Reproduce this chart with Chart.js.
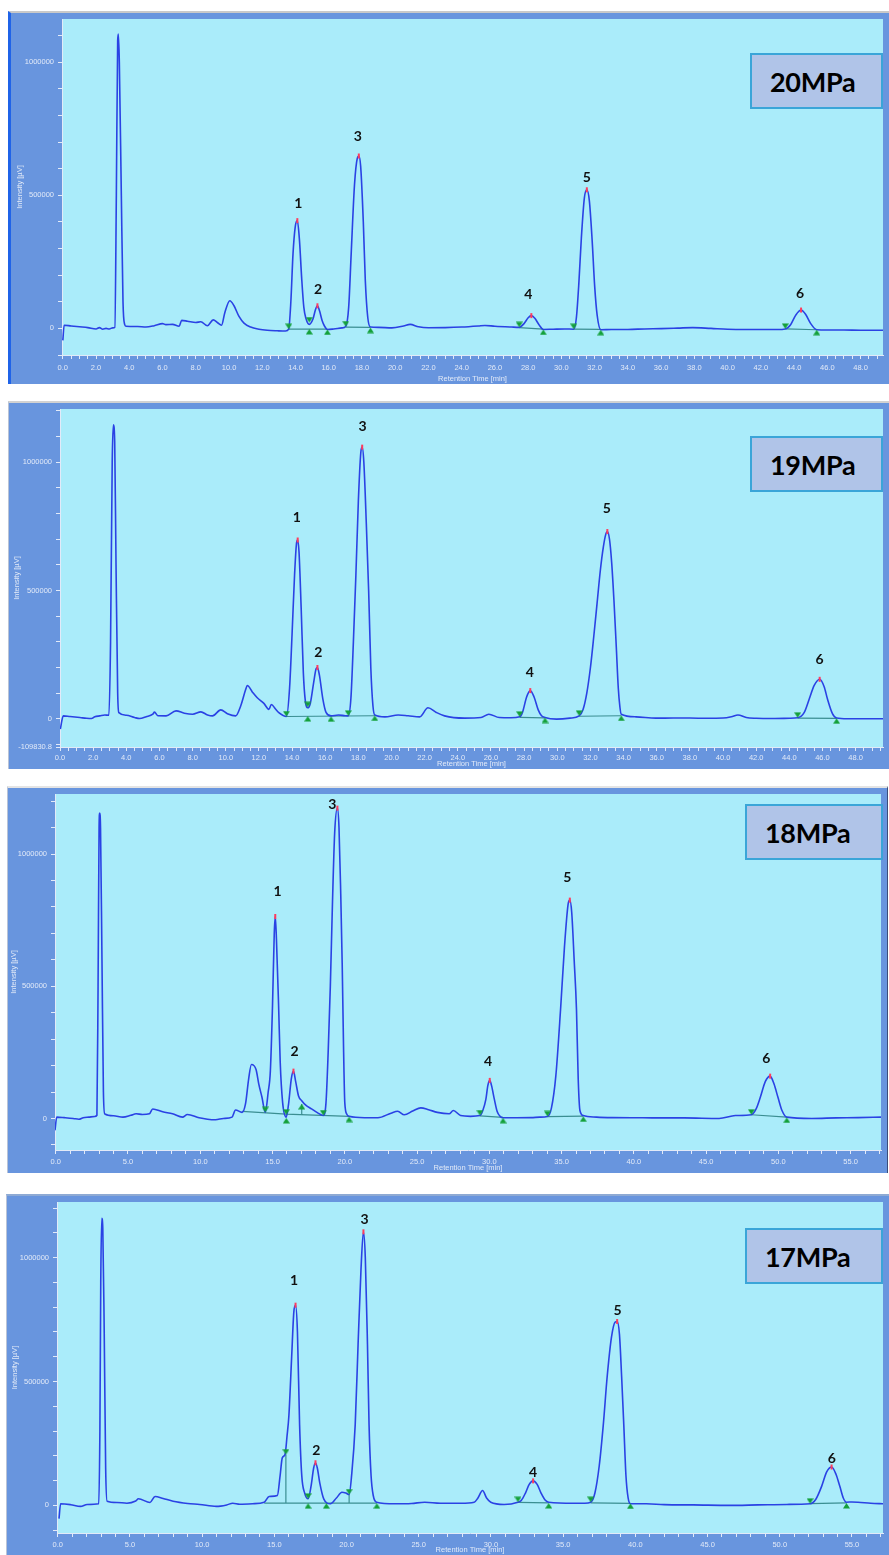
<!DOCTYPE html>
<html>
<head>
<meta charset="utf-8">
<title>Chromatograms 17-20 MPa</title>
<script src="https://cdn.jsdelivr.net/npm/chart.js@4.4.1/dist/chart.umd.min.js"></script>
<style>
  html, body { margin: 0; padding: 0; background: #fff; }
  body { position: relative; width: 889px; height: 1555px; overflow: hidden; }
  .panel { position: absolute; background: #6895de; }
  .panel canvas { display: block; }
  .tag {
    position: absolute; box-sizing: border-box; height: 56px;
    border: 2px solid #3aa5d8; background: #b0c4e8; color: #000;
    font: 700 27px Lato, "Open Sans", sans-serif; letter-spacing: -0.3px;
    display: flex; align-items: center; padding-left: 18px;
  }
</style>
</head>
<body>

<div class="panel" style="left:8px;top:11px;border-top:2px solid #c9c9c9;border-left:3px solid #1f63e8;">
  <canvas id="c20" width="878" height="371"></canvas>
</div>
<div class="panel" style="left:8px;top:401px;border-top:2px solid #d2d2d2;border-left:1px solid #b9c3d6;">
  <canvas id="c19" width="880" height="366"></canvas>
</div>
<div class="panel" style="left:7px;top:786px;border-top:2px solid #e4e4e4;border-left:1px solid #b9c3d6;border-right:1px solid #3c4c78;">
  <canvas id="c18" width="879" height="385"></canvas>
</div>
<div class="panel" style="left:6px;top:1194px;border-top:2px solid #8eaad4;border-left:1px solid #b9c3d6;">
  <canvas id="c17" width="882" height="359"></canvas>
</div>

<div class="tag" style="left:750px;top:53px;width:133px;">20MPa</div>
<div class="tag" style="left:750px;top:436px;width:133px;">19MPa</div>
<div class="tag" style="left:745px;top:804px;width:138px;">18MPa</div>
<div class="tag" style="left:745px;top:1228px;width:138px;">17MPa</div>

<script>
// ---- 20 MPa ----
const time20 = [
  0.0, 0.08, 0.5, 1.0, 1.5, 2.0, 2.2, 2.4, 2.6, 2.8, 3.0, 3.13,
  3.22, 3.30, 3.34, 3.40, 3.52, 3.62, 3.72, 3.8,
  4.5, 5.0, 5.5, 6.0, 6.2, 6.6, 7.0, 7.15, 7.5, 8.0,
  8.3, 8.7, 9.05, 9.3, 9.55, 9.75, 10.05, 10.3, 10.6, 10.9,
  11.3, 11.8, 12.3, 12.9, 13.4, 13.59,
  13.72, 13.85, 13.98, 14.11, 14.24, 14.37, 14.5, 14.63, 14.83,
  15.05, 15.2, 15.32, 15.45, 15.6, 15.75, 15.92,
  16.3, 16.8, 17.02,
  17.2, 17.35, 17.55, 17.72, 17.81, 17.92, 18.08, 18.2, 18.35, 18.51,
  19.0, 19.8, 20.5, 20.9, 21.4, 22.0, 23.0, 24.0, 25.0, 25.4, 26.0, 27.0, 27.46,
  27.75, 28.0, 28.19, 28.4, 28.65, 28.91,
  29.5, 30.2, 30.74,
  30.9, 31.05, 31.2, 31.38, 31.53, 31.68, 31.85, 32.0, 32.15, 32.37,
  33, 34, 35, 36, 37, 37.9, 39, 40, 41, 42, 43, 43.47,
  43.8, 44.1, 44.42, 44.7, 45.0, 45.36,
  46, 47, 48, 49.4
];
const signal20 = [
  -45000, 12000, 9000, 6000, 3000, -2000, 3000, -3000, 0, -2000, 2000, 4000,
  500000, 1080000, 1106000, 1000000, 500000, 100000, 15000, 8000,
  7000, 5000, 10000, 18000, 14000, 15000, 8000, 30000, 27000, 22000,
  25000, 10000, 32000, 22000, 12000, 60000, 104000, 85000, 45000, 20000,
  5000, -3000, -7000, -9000, -10000, -3000,
  100000, 280000, 380000, 405000, 330000, 190000, 80000, 37000, 15000,
  35000, 70000, 85000, 65000, 30000, 8000, -4000,
  -2000, 2000, 7400,
  80000, 280000, 540000, 640000, 648000, 610000, 400000, 180000, 40000, 5000,
  4000, 2000, 9000, 15000, 6000, 2600, 3000, 5000, 9000, 11000, 8000, 5000, 4000,
  18000, 40000, 48000, 38000, 14000, -4000,
  -3000, -2000, -3000,
  40000, 170000, 340000, 490000, 521000, 480000, 330000, 160000, 50000, -5000,
  -4000, -4000, -2000, -1000, 1000, 3000, 0, -3000, -4000, -4000, -4000, -2000,
  15000, 50000, 69000, 52000, 18000, -5000,
  -6000, -6000, -7000, -7000
];
const peakT20 = [14.11, 15.32, 17.81, 28.19, 31.53, 44.42];
const peakV20 = [405000, 85000, 648000, 48000, 521000, 69000];
const labelT20 = [14.17, 15.36, 17.75, 28.01, 31.53, 44.36];
const labelV20 = [470000, 148000, 722000, 126000, 567000, 133000];
const segT20 = [[13.59, 15.92], [17.02, 18.51], [27.46, 28.91], [30.74, 32.37], [43.47, 45.36]];
const segV20 = [[-3000, -3000], [5000, 4000], [3000, -3000], [-3000, -4000], [-2000, -5000]];
const startT20 = [13.59, 14.83, 17.02, 27.46, 30.74, 43.47];
const startV20 = [-3000, 22000, 7000, 4000, -3000, -2000];
const endT20 = [14.83, 15.92, 18.51, 28.91, 32.37, 45.36];
const endV20 = [-2000, -4000, 3000, -4000, -5000, -5000];
const yLabels20 = [0, 500000, 1000000];

// ---- 19 MPa ----
const time19 = [
  0.02, 0.2, 0.6, 1.2, 1.6, 1.9, 2.1, 2.4, 2.7, 2.95,
  3.05, 3.15, 3.22, 3.3, 3.38, 3.48, 3.55,
  4.0, 4.5, 4.8, 5.2, 5.6, 5.7, 5.9, 6.4, 7.0, 7.5,
  8.0, 8.5, 8.9, 9.2, 9.7, 10.1, 10.6, 10.9, 11.2, 11.3,
  11.6, 11.9, 12.3, 12.6, 12.75, 13.0, 13.2, 13.66,
  13.85, 14.0, 14.15, 14.28, 14.34, 14.42, 14.55, 14.68, 14.8, 14.95,
  15.1, 15.3, 15.45, 15.53, 15.65, 15.85, 16.05, 16.35,
  16.8, 17.2, 17.39,
  17.55, 17.7, 17.85, 18.0, 18.15, 18.23, 18.33, 18.48, 18.62, 18.75, 18.88, 18.99,
  19.6, 20.4, 21.0, 21.7, 22.2, 22.7, 23.2, 24.4, 25.4, 25.87, 26.5, 27.2, 27.73,
  27.9, 28.15, 28.37, 28.6, 28.85, 29.05, 29.26,
  29.96, 30.76, 31.32,
  31.55, 31.78, 32.0, 32.2, 32.4, 32.6, 32.78, 32.92, 33.02, 33.15, 33.28, 33.42, 33.56, 33.68, 33.78, 33.86,
  34.75, 35.95, 37, 38, 39, 40, 40.5, 40.9, 41.4, 42, 43, 44, 44.5,
  44.9, 45.2, 45.5, 45.83, 46.1, 46.3, 46.6, 46.85,
  47.5, 48.5, 49.7
];
const signal19 = [
  -40000, 11500, 9000, 5000, 2000, 1000, 8000, 11500, 15000, 14000,
  300000, 1000000, 1146000, 1080000, 600000, 100000, 24000,
  14000, 5000, 1000, 8000, 18000, 26000, 12000, 11500, 31000, 22000,
  18000, 27000, 15000, 11500, 35000, 20000, 11500, 50000, 114000, 130000,
  105000, 82000, 60000, 37000, 56000, 38000, 24000, 9000,
  120000, 330000, 560000, 690000, 697000, 650000, 430000, 180000, 70000, 43000,
  60000, 140000, 195000, 200000, 170000, 80000, 25000, 11500,
  15000, 12000, 11500,
  80000, 300000, 560000, 850000, 1040000, 1059000, 1000000, 760000, 500000, 200000, 50000, 15000,
  7700, 15000, 12000, 7700, 43000, 25000, 11500, 2700, 5000, 18000, 5000, 4000, 7700,
  25000, 85000, 110000, 85000, 35000, 12000, 5000,
  -1000, 2700, 11500,
  35000, 100000, 200000, 320000, 450000, 580000, 670000, 718000, 730000, 700000, 610000, 460000, 280000, 120000, 45000, 18000,
  7700, 2700, 3000, 3000, 2000, 3000, 8000, 15000, 5000, 2000, 1000, 2000, 4000,
  25000, 77000, 130000, 154000, 125000, 77000, 20000, 3000,
  0, 0, 0
];
const peakT19 = [14.34, 15.53, 18.23, 28.37, 33.02, 45.83];
const peakV19 = [697000, 200000, 1059000, 110000, 730000, 154000];
const labelT19 = [14.28, 15.59, 18.25, 28.35, 32.99, 45.83];
const labelV19 = [785000, 258000, 1138000, 181000, 819000, 231000];
const segT19 = [[13.66, 18.99], [27.73, 29.26], [31.32, 33.86], [44.5, 46.85]];
const segV19 = [[9000, 12000], [6000, 4000], [10000, 12000], [3000, 2000]];
const startT19 = [13.66, 14.95, 17.39, 27.73, 31.32, 44.5];
const startV19 = [9000, 45000, 11500, 7700, 11500, 4000];
const endT19 = [14.95, 16.35, 18.99, 29.26, 33.86, 46.85];
const endV19 = [11000, 10000, 13000, 5000, 13000, 2000];
const yLabels19 = [-109830.8, 0, 500000, 1000000];

// ---- 18 MPa ----
const time18 = [
  -0.05, 0.07, 0.6, 1.21, 1.6, 1.9, 2.3, 2.7, 2.85,
  2.93, 3.0, 3.04, 3.1, 3.2, 3.3, 3.39,
  4.0, 4.65, 5.2, 5.56, 6.0, 6.48, 6.71, 7.4, 8.08, 8.77,
  9.11, 9.92, 10.5, 11.06, 11.6, 12.2, 12.44, 12.89, 13.13, 13.35,
  13.54, 13.86, 14.05, 14.27, 14.5,
  14.7, 14.85, 15.0, 15.12, 15.19, 15.27, 15.42, 15.53, 15.7, 15.95,
  16.1, 16.3, 16.45, 16.6, 16.8, 17.02, 17.3, 17.7, 18.1, 18.51,
  18.7, 18.85, 19.0, 19.15, 19.3, 19.49, 19.6, 19.72, 19.82, 19.92, 20.0, 20.15, 20.3,
  21.37, 22.29, 23.2, 23.66, 24.12, 24.7, 25.26, 25.8, 26.4, 27.22, 27.51, 28.01, 28.7, 29.35,
  29.55, 29.76, 29.9, 30.03, 30.15, 30.35, 30.55, 30.75, 30.95,
  31.91, 32.9, 33.5, 34.02,
  34.3, 34.6, 34.93, 35.2, 35.45, 35.57, 35.7, 35.87, 36.03, 36.15, 36.27, 36.5,
  37.42, 38.5, 40.62, 42, 43.5, 45.9, 47.03, 48.13,
  48.45, 48.75, 49.1, 49.43, 49.7, 49.97, 50.25, 50.58,
  52.3, 54, 55.5, 57.1
];
const signal18 = [
  -45000, 5000, 3000, 0, -3000, 2600, 5000, 7500, 12000,
  500000, 1100000, 1155000, 1100000, 600000, 100000, 17500,
  10000, 5000, 12000, 17500, 15000, 17500, 36000, 25000, 17500, 5000,
  15000, 2600, -3000, -5000, 0, 5000, 32000, 23000, 55000, 150000,
  204000, 185000, 130000, 80000, 23000,
  100000, 179000, 428000, 700000, 764000, 680000, 428000, 216000, 60000, 5000,
  50000, 150000, 179000, 140000, 85000, 67000, 50000, 36000, 22000, 11000,
  60000, 250000, 500000, 820000, 1080000, 1174000, 1100000, 850000, 587000, 250000, 60000, 15000, 8000,
  2600, 2600, 20000, 27000, 14000, 28000, 40000, 33000, 23000, 17500, 30000, 11000, 8000, 11000,
  30000, 72000, 125000, 144000, 125000, 72000, 25000, 8000, 2600,
  2600, 3000, 5000, 7500,
  40000, 160000, 413000, 650000, 810000, 826000, 780000, 600000, 413000, 150000, 30000, 11000,
  5000, 3000, 2600, 2000, 2000, 0, 11000, 14000,
  35000, 80000, 140000, 160000, 130000, 80000, 30000, 5000,
  0, 2000, 3000, 5000
];
const peakT18 = [15.19, 16.45, 19.49, 30.03, 35.57, 49.43];
const peakV18 = [764000, 179000, 1174000, 144000, 826000, 160000];
const labelT18 = [15.35, 16.52, 19.13, 29.92, 35.4, 49.16];
const labelV18 = [857000, 254000, 1186000, 216000, 913000, 228000];
const segT18 = [[12.9, 15.95, 20.3], [17.02, 17.02], [29.35, 30.95], [34.02, 36.5], [48.13, 50.58]];
const segV18 = [[27000, 16000, 8000], [13000, 55000], [10000, 4000], [7000, 9000], [14000, 5000]];
const startT18 = [14.5, 15.95, 18.51, 29.35, 34.02, 48.13];
const startV18 = [23000, 14000, 11000, 11000, 7500, 14000];
const endT18 = [15.95, 17.02, 20.3, 30.95, 36.5, 50.58];
const endV18 = [2000, 55000, 7000, 2600, 8000, 4000];
const yLabels18 = [0, 500000, 1000000];

// ---- 17 MPa ----
const time17 = [
  0.09, 0.2, 0.9, 1.58, 2.04, 2.84,
  2.92, 2.98, 3.05, 3.12, 3.22, 3.32, 3.42,
  4.1, 4.79, 5.4, 5.59, 6.39, 6.74, 7.3, 7.99, 9.0, 9.83,
  10.98, 11.7, 12.12, 12.6, 13.49, 14.3, 14.64, 15.21, 15.4, 15.55,
  15.74, 15.88, 16.01, 16.2, 16.35, 16.47, 16.6, 16.75, 16.9, 17.1, 17.34,
  17.55, 17.72, 17.85, 17.98, 18.15, 18.42, 18.88,
  19.3, 19.68, 19.95, 20.18,
  20.35, 20.6, 20.8, 21.0, 21.17, 21.3, 21.45, 21.56, 21.7, 21.85, 22.08,
  23.35, 24.5, 25.41, 26.5, 27.93, 28.84, 29.1, 29.42, 29.7, 29.99, 30.91, 31.87,
  32.1, 32.39, 32.65, 32.92, 33.2, 33.47, 33.75, 34.0,
  35.72, 36.5, 36.91,
  37.2, 37.5, 37.78, 38.05, 38.35, 38.6, 38.74, 38.9, 39.05, 39.2, 39.35, 39.5, 39.66,
  40.76, 42, 44, 46.48, 48.5, 50.5, 52.1,
  52.5, 52.9, 53.25, 53.59, 53.9, 54.16, 54.4, 54.62,
  55.0, 55.42, 56.3, 57.2
];
const signal17 = [
  -53000, 6700, 3000, -4000, 4000, 6700,
  300000, 900000, 1159000, 1120000, 700000, 150000, 17000,
  12000, 9000, 18000, 26600, 12000, 36000, 28000, 17000, 8000, 4000,
  -4000, 2000, 9000, 5000, 6700, 13000, 36000, 40000, 120000, 192000,
  205000, 280000, 364000, 600000, 780000, 808000, 700000, 325000, 120000, 50000, 26600,
  80000, 150000, 172000, 150000, 90000, 26600, 6700,
  30000, 53000, 50000, 44000,
  120000, 325000, 650000, 950000, 1104000, 1000000, 650000, 325000, 120000, 40000, 13000,
  6700, 8000, 13000, 9000, 9000, 13000, 30000, 60000, 30000, 13000, 4000, 13000,
  20000, 50000, 85000, 99000, 85000, 50000, 22000, 13000,
  9000, 9000, 13000,
  50000, 160000, 325000, 520000, 680000, 740000, 742000, 690000, 520000, 325000, 120000, 30000, 6700,
  6700, 3000, 2000, 0, 2000, 4000, 6700,
  25000, 77000, 135000, 155000, 125000, 77000, 30000, 13000,
  14000, 13000, 9000, 6700
];
const peakT17 = [16.47, 17.85, 21.17, 32.92, 38.74, 53.59];
const peakV17 = [808000, 172000, 1104000, 99000, 742000, 155000];
const labelT17 = [16.36, 17.9, 21.24, 32.92, 38.76, 53.6];
const labelV17 = [906000, 223000, 1153000, 131000, 787000, 191000];
const segT17 = [[14.3, 22.1], [15.8, 15.8], [20.18, 20.18], [31.87, 34.0], [36.91, 39.66], [52.1, 54.62]];
const segV17 = [[9000, 9000], [9000, 205000], [9000, 44000], [12000, 10000], [10000, 8000], [7000, 10000]];
const startT17 = [15.8, 17.34, 20.18, 31.87, 36.91, 52.1];
const startV17 = [205000, 26600, 44000, 13000, 13000, 6700];
const endT17 = [17.34, 18.6, 22.1, 34.0, 39.66, 54.62];
const endV17 = [9000, 9000, 9000, 10000, 8000, 10000];
const yLabels17 = [0, 500000, 1000000];

const peakNames = ['1', '2', '3', '4', '5', '6'];

// ---- drawing ----
Chart.defaults.font.family = "'Liberation Sans', Arial, sans-serif";
const AXIS_INK = '#e2eaf8';
const PLOT_BG = '#aaecfa';

// green peak start/end flags: tip of the triangle sits on the baseline
function flag(up) {
  const c = document.createElement('canvas');
  c.width = 7; c.height = 12;
  const g = c.getContext('2d');
  g.fillStyle = '#14a03a';
  g.beginPath();
  if (up) { g.moveTo(3.5, 6); g.lineTo(7, 11.5); g.lineTo(0, 11.5); }
  else { g.moveTo(0, 0.5); g.lineTo(7, 0.5); g.lineTo(3.5, 6); }
  g.closePath();
  g.fill();
  return c;
}
const FLAG_DOWN = flag(false);
const FLAG_UP = flag(true);

const pts = (ts, vs) => ts.map((t, i) => ({ x: t, y: vs[i] }));
function segPoints(segT, segV) {
  const out = [];
  segT.forEach((ts, i) => {
    ts.forEach((t, j) => out.push({ x: t, y: segV[i][j] }));
    out.push({ x: ts[ts.length - 1], y: null });
  });
  return out;
}
const isMultiple = (v, m) => Math.abs(v / m - Math.round(v / m)) < 1e-6;

// evenly spaced tick marks between lo and hi, plus any extra values
function tickRun(lo, hi, step, extra) {
  const out = (extra || []).map(v => ({ value: v }));
  for (let k = Math.ceil(lo / step - 1e-9); k * step <= hi + 1e-9; k++) {
    out.push({ value: Math.round(k * step * 1000) / 1000 });
  }
  return out.sort((a, b) => a.value - b.value);
}

const chromaPlugin = {
  id: 'chroma',
  beforeDraw(chart) {
    const { ctx, chartArea: a } = chart;
    ctx.save();
    ctx.fillStyle = PLOT_BG;
    ctx.fillRect(a.left, a.top, a.right - a.left, a.bottom - a.top);
    ctx.restore();
  },
  afterDatasetsDraw(chart, args, opts) {
    const { ctx, scales: { x, y } } = chart;
    ctx.save();
    ctx.font = "700 14px Lato, 'Open Sans', sans-serif";
    ctx.fillStyle = '#111';
    ctx.textAlign = 'center';
    ctx.textBaseline = 'middle';
    opts.labelT.forEach((t, i) => {
      ctx.fillText(peakNames[i], x.getPixelForValue(t), y.getPixelForValue(opts.labelV[i]));
    });
    ctx.restore();
  }
};

function drawPanel(id, cfg) {
  new Chart(document.getElementById(id), {
    type: 'line',
    data: {
      datasets: [
        { data: pts(cfg.startT, cfg.startV), showLine: false, pointStyle: FLAG_DOWN, pointRadius: 4 },
        { data: pts(cfg.endT, cfg.endV), showLine: false, pointStyle: FLAG_UP, pointRadius: 4 },
        { data: pts(cfg.peakT, cfg.peakV), showLine: false, pointStyle: 'line', rotation: 90,
          pointRadius: 2.5, borderColor: '#ff3b5c', borderWidth: 2 },
        { data: pts(cfg.time, cfg.signal), borderColor: '#2a42e4', borderWidth: 1.6,
          pointRadius: 0, cubicInterpolationMode: 'monotone' },
        { data: segPoints(cfg.segT, cfg.segV), borderColor: '#3b8e92', borderWidth: 1.2,
          pointRadius: 0, spanGaps: false }
      ]
    },
    options: {
      responsive: false,
      animation: false,
      devicePixelRatio: 1,
      events: [],
      layout: { padding: { top: 1, left: 0, right: 0, bottom: 0 } },
      plugins: {
        legend: { display: false },
        tooltip: { enabled: false },
        chroma: { labelT: cfg.labelT, labelV: cfg.labelV }
      },
      scales: {
        x: {
          type: 'linear', min: cfg.xMin, max: cfg.xMax,
          afterBuildTicks(s) { s.ticks = tickRun(cfg.xMin, cfg.xMax, cfg.xMinor); },
          afterFit(s) { s.height = cfg.xAxisH; s.paddingLeft = 0; s.paddingRight = 0; },
          border: { color: AXIS_INK },
          grid: { drawOnChartArea: false, color: AXIS_INK, tickLength: 4 },
          ticks: {
            autoSkip: false, maxRotation: 0, color: AXIS_INK,
            font: { size: 7.5 }, padding: cfg.xLabelPad,
            callback: v => isMultiple(v, cfg.xMajor) ? Number(v).toFixed(1) : ''
          },
          title: { display: true, text: 'Retention Time [min]', color: AXIS_INK,
                   font: { size: 7.5 }, padding: { top: 0, bottom: 1 } }
        },
        y: {
          type: 'linear', min: cfg.yMin, max: cfg.yMax,
          afterBuildTicks(s) {
            const extra = cfg.yLabels.filter(v => !isMultiple(v, 100000));
            s.ticks = tickRun(cfg.yMin, cfg.yMax, 100000, extra);
          },
          afterFit(s) { s.width = cfg.yAxisW; s.paddingTop = 0; s.paddingBottom = 0; },
          border: { color: AXIS_INK },
          grid: { drawOnChartArea: false, color: AXIS_INK, tickLength: 4 },
          ticks: {
            autoSkip: false, color: AXIS_INK, font: { size: 7.5 }, padding: 4,
            callback: v => cfg.yLabels.some(l => Math.abs(l - v) < 0.01) ? String(v) : ''
          },
          title: { display: true, text: 'Intensity [µV]', color: AXIS_INK,
                   font: { size: 7.5 }, padding: { top: cfg.yTitlePad, bottom: 0 } }
        }
      }
    },
    plugins: [chromaPlugin]
  });
}

drawPanel('c20', {
  time: time20, signal: signal20, peakT: peakT20, peakV: peakV20, labelT: labelT20, labelV: labelV20,
  segT: segT20, segV: segV20, startT: startT20, startV: startV20, endT: endT20, endV: endV20,
  yLabels: yLabels20,
  xMin: -0.05, xMax: 49.35, xMinor: 0.5, xMajor: 2, yMin: -100000, yMax: 1163000,
  yAxisW: 51, xAxisH: 29, xLabelPad: 4, yTitlePad: 4.5
});
drawPanel('c19', {
  time: time19, signal: signal19, peakT: peakT19, peakV: peakV19, labelT: labelT19, labelV: labelV19,
  segT: segT19, segV: segV19, startT: startT19, startV: startV19, endT: endT19, endV: endV19,
  yLabels: yLabels19,
  xMin: 0, xMax: 49.65, xMinor: 0.5, xMajor: 2, yMin: -109830.8, yMax: 1207700,
  yAxisW: 51, xAxisH: 22, xLabelPad: 2, yTitlePad: 3
});
drawPanel('c18', {
  time: time18, signal: signal18, peakT: peakT18, peakV: peakV18, labelT: labelT18, labelV: labelV18,
  segT: segT18, segV: segV18, startT: startT18, startV: startV18, endT: endT18, endV: endV18,
  yLabels: yLabels18,
  xMin: -0.05, xMax: 57.1, xMinor: 1, xMajor: 5, yMin: -119400, yMax: 1227500,
  yAxisW: 47, xAxisH: 23, xLabelPad: 3, yTitlePad: 1.5
});
drawPanel('c17', {
  time: time17, signal: signal17, peakT: peakT17, peakV: peakV17, labelT: labelT17, labelV: labelV17,
  segT: segT17, segV: segV17, startT: startT17, startV: startV17, endT: endT17, endV: endV17,
  yLabels: yLabels17,
  xMin: -0.05, xMax: 57.15, xMinor: 1, xMajor: 5, yMin: -111300, yMax: 1224300,
  yAxisW: 50, xAxisH: 22, xLabelPad: 3, yTitlePad: 3.5
});
</script>
</body>
</html>
